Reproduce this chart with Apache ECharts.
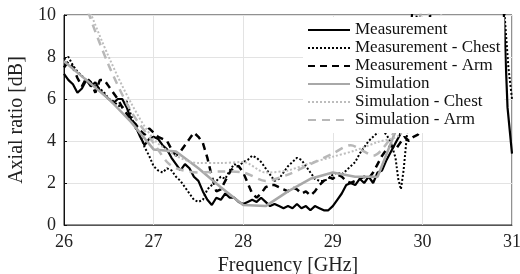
<!DOCTYPE html>
<html>
<head>
<meta charset="utf-8">
<script src="https://cdn.jsdelivr.net/npm/echarts@6/dist/echarts.min.js"></script>
<style>
  html, body { margin: 0; padding: 0; background: #fff; }
  #chart { width: 520px; height: 274px; }
</style>
</head>
<body>
<div id="chart"></div>
<script>
  // axial ratio vs frequency
  let xTicks = [26, 27, 28, 29, 30, 31]
  let yTicks = [0, 2, 4, 6, 8, 10]

  let measFreq = [26.00, 26.05, 26.10, 26.15, 26.20, 26.25, 26.30, 26.35, 26.40, 26.45, 26.50, 26.55, 26.60, 26.65, 26.70, 26.75, 26.80, 26.85, 26.90, 26.95,
    27.00, 27.05, 27.10, 27.15, 27.20, 27.25, 27.30, 27.35, 27.40, 27.45, 27.50, 27.55, 27.60, 27.65, 27.70, 27.75, 27.80, 27.85, 27.90, 27.95,
    28.00, 28.05, 28.10, 28.15, 28.20, 28.25, 28.30, 28.35, 28.40, 28.45, 28.50, 28.55, 28.60, 28.65, 28.70, 28.75, 28.80, 28.85, 28.90, 28.95,
    29.00, 29.05, 29.10, 29.15, 29.20, 29.25, 29.30, 29.35, 29.40, 29.45, 29.50, 29.55, 29.60, 29.65, 29.70, 29.75, 29.80, 29.85, 29.90,
    30.90, 30.95, 31.00]
  let measAR = [7.2, 6.9, 6.7, 6.3, 6.5, 6.9, 6.6, 6.8, 6.4, 6.2, 6.0, 5.8, 6.0, 6.0, 5.6, 5.0, 4.7, 4.2, 3.8, 4.1,
    4.2, 4.1, 3.8, 3.6, 3.2, 2.9, 2.6, 2.9, 2.7, 2.3, 2.1, 1.6, 1.2, 0.95, 1.3, 1.2, 1.5, 1.3, 1.3, 1.1,
    1.0, 1.1, 1.2, 1.1, 1.3, 1.1, 0.9, 1.0, 0.9, 0.8, 0.9, 0.8, 1.0, 0.8, 0.9, 0.7, 0.9, 0.8, 0.7, 0.7,
    0.9, 1.2, 1.5, 1.9, 2.0, 1.9, 2.2, 2.0, 2.3, 2.0, 2.5, 2.6, 3.1, 3.5, 3.9, 4.3, 5.5, 8.0, 11,
    11, 5.6, 3.4]

  let chestFreq = [26.00, 26.05, 26.10, 26.15, 26.20, 26.25, 26.30, 26.35, 26.40, 26.45, 26.50, 26.55, 26.60, 26.65, 26.70, 26.75, 26.80, 26.85, 26.90, 26.95,
    27.00, 27.05, 27.10, 27.15, 27.20, 27.25, 27.30, 27.35, 27.40, 27.45, 27.50, 27.55, 27.60, 27.65, 27.70, 27.75, 27.80, 27.85, 27.90, 27.95,
    28.00, 28.05, 28.10, 28.15, 28.20, 28.25, 28.30, 28.35, 28.40, 28.45, 28.50, 28.55, 28.60, 28.65, 28.70, 28.75, 28.80, 28.85, 28.90, 28.95,
    29.00, 29.05, 29.10, 29.15, 29.20, 29.25, 29.30, 29.35, 29.40, 29.45, 29.50, 29.55, 29.60, 29.65, 29.70, 29.73, 29.76, 29.79, 29.83, 29.88, 29.95,
    30.90, 30.96, 31.00]
  let chestAR = [7.9, 8.0, 7.6, 7.3, 7.1, 6.9, 6.7, 6.6, 6.5, 6.3, 6.0, 5.9, 5.7, 5.6, 5.9, 5.2, 4.6, 4.3, 3.7, 3.3,
    2.8, 2.6, 2.5, 2.7, 2.6, 2.3, 2.1, 1.8, 1.5, 1.2, 1.1, 1.2, 1.7, 1.9, 2.1, 2.3, 2.2, 2.6, 2.9, 2.8,
    3.0, 3.1, 3.3, 3.2, 3.0, 2.7, 2.4, 2.1, 2.2, 2.5, 2.8, 3.0, 3.2, 3.1, 2.8, 2.5, 2.2, 2.1, 2.1, 2.2,
    2.4, 2.5, 2.4, 2.6, 2.8, 3.0, 3.4, 3.7, 4.0, 4.2, 4.4, 4.5, 4.3, 3.9, 3.2, 2.2, 1.7, 2.6, 4.4, 6.0, 11,
    11, 7.5, 6.0]

  let armFreq = [26.00, 26.05, 26.10, 26.15, 26.20, 26.25, 26.30, 26.35, 26.40, 26.45, 26.50, 26.55, 26.60, 26.65, 26.70, 26.75, 26.80, 26.85, 26.90, 26.95,
    27.00, 27.05, 27.10, 27.15, 27.20, 27.25, 27.30, 27.35, 27.40, 27.45, 27.50, 27.55, 27.60, 27.65, 27.70, 27.75, 27.80, 27.85, 27.90, 27.95,
    28.00, 28.05, 28.10, 28.15, 28.20, 28.25, 28.30, 28.35, 28.40, 28.45, 28.50, 28.55, 28.60, 28.65, 28.70, 28.75, 28.80, 28.85, 28.90, 28.95,
    29.00, 29.05, 29.10, 29.15, 29.20, 29.25, 29.30, 29.35, 29.40, 29.45, 29.50, 29.55, 29.60, 29.65, 29.70, 29.75, 29.80, 29.85, 29.90, 29.95, 29.98,
    30.03, 30.10]
  let armAR = [7.5, 7.8, 7.5, 7.0, 6.6, 7.0, 6.8, 6.3, 6.9, 6.9, 6.6, 6.3, 6.0, 5.6, 5.3, 5.0, 4.8, 4.5, 4.3, 4.6,
    4.4, 4.2, 4.1, 4.0, 3.6, 3.3, 3.5, 3.8, 4.1, 4.4, 4.2, 3.9, 3.2, 2.3, 1.6, 1.7, 2.1, 2.5, 2.8, 2.8,
    2.5, 2.0, 1.5, 1.3, 1.5, 1.8, 1.9, 1.9, 1.8, 1.7, 1.6, 1.8, 1.7, 1.5, 1.6, 1.4, 1.6, 1.9, 2.1, 2.3,
    2.2, 2.4, 2.3, 2.1, 2.0, 2.1, 2.2, 2.3, 2.2, 2.5, 2.9, 3.3, 3.6, 3.8, 3.6, 3.9, 4.2, 4.0, 4.2, 4.3, 4.5,
    6.0, 11]

  let simFreq = [26.0, 26.25, 26.5, 26.75, 27.0, 27.25, 27.5, 27.75, 28.0, 28.25, 28.5, 28.75, 29.0, 29.25, 29.5, 29.75, 30.0]
  let simAR = [7.8, 6.9, 6.0, 4.9, 3.6, 3.5, 2.7, 1.8, 0.95, 0.9, 1.6, 2.2, 2.5, 2.3, 2.3, 5.0, 10.5]

  let simChestFreq = [26.0, 26.25, 26.5, 26.75, 27.0, 27.25, 27.5, 27.75, 28.0, 28.25, 28.5, 28.75, 29.0, 29.25, 29.5, 29.75, 30.0, 30.25]
  let simChestAR = [13.5, 10.6, 8.0, 5.8, 4.1, 3.3, 2.95, 2.95, 3.0, 2.5, 2.6, 2.95, 3.25, 3.55, 3.95, 4.3, 6.0, 11]

  let simArmFreq = [26.0, 26.25, 26.5, 26.75, 27.0, 27.15, 27.25, 27.5, 27.75, 28.0, 28.25, 28.5, 28.75, 29.0, 29.2, 29.35, 29.45, 29.55, 29.7, 30.0, 30.2]
  let simArmAR = [14, 10.4, 7.6, 5.4, 3.9, 3.0, 2.7, 2.5, 2.55, 2.5, 2.1, 2.4, 2.9, 3.4, 3.8, 3.5, 3.3, 3.6, 4.6, 9.0, 12]

  let pairs = function (xs, ys) {
    return xs.map(function (x, i) { return [x, ys[i]] })
  }

  let serif = '"Liberation Serif"'
  let chart = echarts.init(document.getElementById('chart'), null, {renderer: 'canvas'})

  let seriesDefs = [
    {name: 'Measurement', data: pairs(measFreq, measAR), color: '#000', width: 2.2, type: 'solid'},
    {name: 'Measurement - Chest', data: pairs(chestFreq, chestAR), color: '#000', width: 2, type: [2, 2]},
    {name: 'Measurement - Arm', data: pairs(armFreq, armAR), color: '#000', width: 2.5, type: [7, 5]},
    {name: 'Simulation', data: pairs(simFreq, simAR), color: '#a8a8a8', width: 2.5, type: 'solid'},
    {name: 'Simulation - Chest', data: pairs(simChestFreq, simChestAR), color: '#bdbdbd', width: 2, type: [2, 2], smooth: 0.3},
    {name: 'Simulation - Arm', data: pairs(simArmFreq, simArmAR), color: '#b8b8b8', width: 2.5, type: [8, 6], smooth: 0.3}
  ]

  let option = {
    animation: false,
    grid: {
      left: 64, right: 8, top: 15, bottom: 49,
      outerBoundsMode: 'none',
      show: true, borderColor: '#222', borderWidth: 1
    },
    legend: {
      orient: 'vertical',
      left: 303, top: 17,
      z: 20,
      padding: [4, 4, 4, 4],
      itemWidth: 42, itemHeight: 12, itemGap: 0,
      backgroundColor: '#fff',
      itemStyle: {opacity: 0},
      textStyle: {fontFamily: serif, fontSize: 17, color: '#111', lineHeight: 18},
      data: seriesDefs.map(function (s) { return s.name })
    },
    xAxis: {
      type: 'value',
      min: xTicks[0], max: xTicks[xTicks.length - 1], interval: 1,
      name: 'Frequency [GHz]', nameLocation: 'middle', nameGap: 31,
      nameTextStyle: {fontFamily: serif, fontSize: 20, color: '#222'},
      axisLine: {lineStyle: {color: '#555'}},
      axisTick: {show: false},
      axisLabel: {fontFamily: serif, fontSize: 18, color: '#222', margin: 8},
      splitLine: {show: true, lineStyle: {color: '#e3e3e3'}}
    },
    yAxis: {
      type: 'value',
      min: yTicks[0], max: yTicks[yTicks.length - 1], interval: 2,
      name: 'Axial ratio [dB]', nameLocation: 'middle', nameGap: 26,
      nameTextStyle: {fontFamily: serif, fontSize: 20, color: '#222'},
      axisLine: {show: true, lineStyle: {color: '#111'}},
      axisTick: {show: true, inside: true, length: 3, lineStyle: {color: '#111'}},
      axisLabel: {fontFamily: serif, fontSize: 18, color: '#222', margin: 8},
      splitLine: {show: true, lineStyle: {color: '#e3e3e3'}}
    },
    series: []
  }

  for (let i in seriesDefs) {
    let s = seriesDefs[i]
    option.series.push({
      name: s.name,
      type: 'line',
      data: s.data,
      symbol: 'none',
      clip: true,
      smooth: s.smooth || false,
      itemStyle: {color: s.color},
      lineStyle: {color: s.color, width: s.width, type: s.type}
    })
  }

  chart.setOption(option)
</script>
</body>
</html>
